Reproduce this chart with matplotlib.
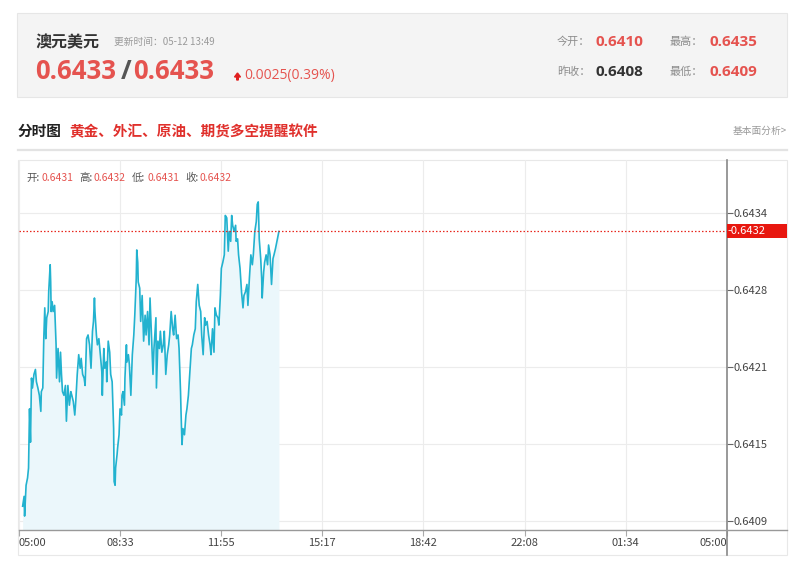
import matplotlib
matplotlib.use("Agg")
import matplotlib.pyplot as plt
from matplotlib.patches import Rectangle, FancyArrow
from matplotlib.lines import Line2D

plt.rcParams['font.family'] = ['Noto Sans CJK SC', 'DejaVu Sans']

# ---------------- data ----------------
title = "澳元美元"
update_time = "更新时间：05-12 13:49"
bid_price = "0.6433"
ask_price = "0.6433"
change_text = "0.0025(0.39%)"
open_today = "0.6410"
high_today = "0.6435"
prev_close = "0.6408"
low_today = "0.6409"
section_title = "分时图"
promo_text = "黄金、外汇、原油、期货多空提醒软件"
link_text = "基本面分析>"
bar_labels = ["开:", "高:", "低:", "收:"]
bar_values = ["0.6431", "0.6432", "0.6431", "0.6432"]

x_tick_labels = ["05:00", "08:33", "11:55", "15:17", "18:42", "22:08", "01:34", "05:00"]
y_tick_values = [0.6409, 0.641525, 0.64215, 0.642775, 0.6434]
y_tick_labels = ["0.6409", "0.6415", "0.6421", "0.6428", "0.6434"]
y_range = (0.640827, 0.643830)
x_range = (0, 1440)   # minutes after 05:00
last_price_label = "0.6432"

# minutes after 05:00
minutes = [
    8, 11, 12, 15, 18, 20, 22, 24, 26, 28, 31, 34, 36, 39, 42, 45, 46, 49, 51, 53,
    55, 57, 60, 61, 64, 65, 66, 68, 70, 73, 76, 77, 80, 83, 85, 87, 89, 92, 95, 97,
    100, 103, 106, 108, 111, 114, 116, 119, 122, 125, 127, 130, 133, 135, 138, 141,
    144, 147, 150, 152, 154, 155, 158, 160, 163, 166, 169, 170, 173, 175, 178, 179,
    182, 185, 187, 190, 193, 194, 196, 197, 200, 201, 204, 206, 209, 210, 212, 215,
    216, 219, 220, 223, 225, 228, 231, 234, 236, 239, 240, 242, 243, 246, 248, 251,
    254, 257, 259, 262, 265, 267, 270, 273, 275,
    279, 280, 283, 286, 288, 291, 294, 296, 299, 302, 305, 307, 310, 313, 315, 318,
    321, 324, 326, 329, 330, 332, 334, 337, 340, 342, 345, 348, 351, 353, 356, 359,
    361, 364, 367, 370, 372, 375, 378, 380, 383, 386, 389, 391, 394, 397, 399, 402,
    405, 407, 410, 412,
    415, 418, 420, 423, 426, 428, 431, 433, 435, 438, 441, 442, 445, 447, 450, 453,
    456, 458, 461, 464, 466, 469, 472, 475, 477, 480, 483, 485, 487, 489, 492, 494,
    495, 498, 500, 503, 506, 508, 511, 514, 517, 519, 522, 525, 529,
]
prices = [
    0.64102, 0.64110, 0.64094, 0.64119, 0.64125, 0.64133, 0.64181, 0.64154, 0.64206, 0.64198,
    0.64209, 0.64213, 0.64203, 0.64198, 0.64192, 0.64179, 0.64195, 0.64198, 0.64238, 0.64263,
    0.64238, 0.64255, 0.64260, 0.64276, 0.64298, 0.64284, 0.64260, 0.64268, 0.64260, 0.64265,
    0.64233, 0.64206, 0.64230, 0.64203, 0.64227, 0.64209, 0.64195, 0.64192, 0.64200, 0.64171,
    0.64200, 0.64184, 0.64195, 0.64192, 0.64187, 0.64176, 0.64187, 0.64209, 0.64225, 0.64214,
    0.64222, 0.64209, 0.64206, 0.64200, 0.64238, 0.64241,
    0.64233, 0.64214, 0.64244, 0.64252, 0.64271, 0.64260, 0.64241, 0.64233, 0.64238, 0.64225,
    0.64211, 0.64192, 0.64230, 0.64214, 0.64219, 0.64203, 0.64236, 0.64227, 0.64209, 0.64203,
    0.64165, 0.64122, 0.64119, 0.64133, 0.64144, 0.64149, 0.64160, 0.64181, 0.64176, 0.64192,
    0.64195, 0.64184, 0.64206, 0.64233, 0.64219, 0.64225, 0.64217, 0.64192, 0.64225, 0.64241,
    0.64257, 0.64287, 0.64310, 0.64300, 0.64284, 0.64279, 0.64252, 0.64273, 0.64236, 0.64257,
    0.64241, 0.64260, 0.64233, 0.64271, 0.64241, 0.64209, 0.64230,
    0.64255, 0.64198, 0.64236, 0.64230, 0.64244, 0.64227, 0.64233, 0.64244, 0.64209, 0.64225,
    0.64233, 0.64241, 0.64260, 0.64246, 0.64241, 0.64257, 0.64238, 0.64241, 0.64230, 0.64195,
    0.64179, 0.64152, 0.64165, 0.64160, 0.64176, 0.64181, 0.64192, 0.64211, 0.64230, 0.64233,
    0.64241, 0.64246, 0.64268, 0.64282, 0.64265, 0.64260, 0.64241, 0.64225, 0.64255, 0.64249,
    0.64252, 0.64241, 0.64233, 0.64225, 0.64246, 0.64227, 0.64263, 0.64257, 0.64255, 0.64249,
    0.64273, 0.64295,
    0.64300, 0.64306, 0.64338, 0.64336, 0.64309, 0.64325, 0.64317, 0.64338, 0.64330, 0.64325,
    0.64330, 0.64317, 0.64319, 0.64306, 0.64295, 0.64276, 0.64263, 0.64273, 0.64276, 0.64282,
    0.64265, 0.64287, 0.64306, 0.64298, 0.64306, 0.64325, 0.64333, 0.64347, 0.64349, 0.64319,
    0.64303, 0.64287, 0.64271, 0.64292, 0.64300, 0.64306, 0.64298, 0.64314, 0.64306, 0.64282,
    0.64303, 0.64306, 0.64311, 0.64317, 0.64325,
]

# ---------------- styles ----------------
W, H = 800, 570
RED = "#e5534f"
RED2 = "#e0302c"
DARK = "#333333"
GRAY = "#8c8c8c"
LINE = "#22b2cf"
FILL = "#ebf7fb"
GRID = "#ececec"


def P(x, y):
    return (x / W, 1 - y / H)


fig = plt.figure(figsize=(W / 100, H / 100), dpi=100)
fig.patch.set_facecolor("white")

# header box
fig.patches.append(Rectangle(P(17, 97), 770 / W, 84 / H, transform=fig.transFigure,
                             facecolor="#f4f4f4", edgecolor="#e6e6e6", lw=0.8, zorder=-2))
fig.text(*P(36, 42), title, fontsize=11.5, fontweight="bold", color=DARK, va="center")
fig.text(*P(114, 42), update_time, fontsize=7, color="#9a9a9a", va="center")
fig.text(*P(35, 72), bid_price, fontsize=18.5, fontweight="bold", color=RED, va="center",
         family=["Open Sans", "DejaVu Sans"])
fig.text(*P(121, 72), "/", fontsize=18.5, fontweight="bold", color="#555555", va="center",
         family=["Open Sans", "DejaVu Sans"])
fig.text(*P(133, 72), ask_price, fontsize=18.5, fontweight="bold", color=RED, va="center",
         family=["Open Sans", "DejaVu Sans"])
fig.patches.append(FancyArrow(237.5 / W, 1 - 80 / H, 0, 7 / H, width=1.6 / W,
                              head_width=6 / W, head_length=4 / H, transform=fig.transFigure,
                              color="#e02020", length_includes_head=True))
fig.text(*P(244, 75), change_text, fontsize=10, color=RED, va="center",
         family=["Open Sans", "DejaVu Sans"])

fig.text(*P(557, 42), "今开：", fontsize=8, color=GRAY, va="center")
fig.text(*P(595, 42), open_today, fontsize=11, fontweight="bold", color=RED, va="center",
         family=["Open Sans", "DejaVu Sans"])
fig.text(*P(670, 42), "最高：", fontsize=8, color=GRAY, va="center")
fig.text(*P(709, 42), high_today, fontsize=11, fontweight="bold", color=RED, va="center",
         family=["Open Sans", "DejaVu Sans"])
fig.text(*P(557, 72), "昨收：", fontsize=8, color=GRAY, va="center")
fig.text(*P(595, 72), prev_close, fontsize=11, fontweight="bold", color=DARK, va="center",
         family=["Open Sans", "DejaVu Sans"])
fig.text(*P(670, 72), "最低：", fontsize=8, color=GRAY, va="center")
fig.text(*P(709, 72), low_today, fontsize=11, fontweight="bold", color=RED, va="center",
         family=["Open Sans", "DejaVu Sans"])

# section header
fig.text(*P(18, 131), section_title, fontsize=10.5, fontweight="bold", color="#222222", va="center")
fig.text(*P(69, 131), promo_text, fontsize=10.5, fontweight="bold", color=RED2, va="center")
fig.text(*P(787, 131), link_text, fontsize=7, color="#9a9a9a", va="center", ha="right")
fig.lines.append(Line2D([18 / W, 787 / W], [1 - 150 / H] * 2, transform=fig.transFigure,
                        color="#e3e3e3", lw=1.6, zorder=-2))

# chart frame
fig.patches.append(Rectangle(P(18, 555), 769 / W, 395 / H, transform=fig.transFigure,
                             facecolor="none", edgecolor="#e8e8e8", lw=0.8, zorder=-2))

# ---------------- chart ----------------
ax = fig.add_axes([18.7 / W, 1 - 530 / H, (727 - 18.7) / W, 370 / H])
ax.set_facecolor("none")
ax.set_xlim(*x_range)
ax.set_ylim(*y_range)

ax.fill_between(minutes, prices, y_range[0], color=FILL, lw=0, zorder=1)
ax.plot(minutes, prices, color=LINE, lw=1.2, zorder=3)
ax.axhline(prices[-1], color="#e8281f", lw=0.9, ls=(0, (1.2, 1.6)), zorder=4)

xt = [x_range[0] + i * (x_range[1] - x_range[0]) / 7 for i in range(8)]
ax.set_xticks(xt)
ax.set_xticklabels(x_tick_labels)
labs = ax.get_xticklabels()
labs[0].set_ha("left")
labs[-1].set_ha("right")
ax.set_yticks(y_tick_values)
ax.set_yticklabels(y_tick_labels)
ax.yaxis.tick_right()
ax.tick_params(axis="y", length=4, width=0.8, color="#666666", pad=1, labelsize=8,
               labelcolor="#444444")
ax.tick_params(axis="x", length=4, width=0.8, color="#aaaaaa", pad=2, labelsize=8,
               labelcolor="#444444")
ax.grid(True, color=GRID, lw=0.8, zorder=0)
ax.set_axisbelow(True)
for s in ax.spines.values():
    s.set_visible(False)

# axis lines extending beyond the plot
ax.plot([1, 1], [-25 / 370, 1], transform=ax.transAxes, color="#888888", lw=1.2,
        clip_on=False, zorder=5)
ax.plot([0, (787 - 18.7) / (727 - 18.7)], [0, 0], transform=ax.transAxes, color="#999999",
        lw=1.0, clip_on=False, zorder=5)

# OHLC text
x0 = 26
for lab, val in zip(bar_labels, bar_values):
    fig.text(*P(x0, 178), lab, fontsize=7.5, color="#555555", va="center")
    fig.text(*P(x0 + 15, 178), val, fontsize=7.5, color=RED, va="center")
    x0 += 53

# last price tag (full-width red box right of the axis)
ytr = ax.get_yaxis_transform()
box_h = 14 / 370 * (y_range[1] - y_range[0])
ax.add_patch(Rectangle((1.0, prices[-1] - box_h / 2), (787 - 727) / (727 - 18.7), box_h,
                       transform=ytr, facecolor="#e8170f", edgecolor="none",
                       clip_on=False, zorder=6))
ax.text(1.0, prices[-1], "-" + last_price_label, transform=ytr,
        fontsize=8, color="white", va="center", ha="left", clip_on=False, zorder=7)

fig.savefig("out.png", dpi=100)
